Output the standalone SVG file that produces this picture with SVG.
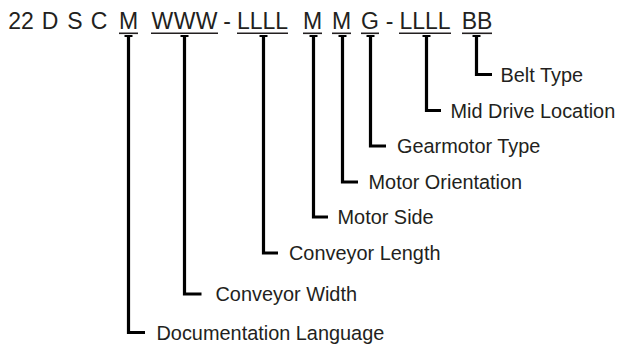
<svg xmlns="http://www.w3.org/2000/svg" width="617" height="347" viewBox="0 0 617 347">
<style>
.hd{font-family:"Liberation Sans",Arial,sans-serif;font-size:23px;fill:#231f20;text-anchor:middle}
.lb{font-family:"Liberation Sans",Arial,sans-serif;font-size:19.9px;fill:#231f20}
.ul{stroke:#231f20;stroke-width:1.6}
.cn{fill:none;stroke:#000;stroke-width:3.2;stroke-linejoin:miter;stroke-linecap:butt}
.cap{stroke:#000;stroke-width:2}
</style>
<rect width="617" height="347" fill="#fff"/>
<g id="code">
<text class="hd" x="21" y="28.5">22</text>
<text class="hd" x="50" y="28.5">D</text>
<text class="hd" x="75" y="28.5">S</text>
<text class="hd" x="99" y="28.5">C</text>
<text class="hd" x="128.5" y="28.5">M</text>
<text class="hd" x="184.5" y="28.5" textLength="66" lengthAdjust="spacing">WWW</text>
<text class="hd" x="227" y="28.5">-</text>
<text class="hd" x="262.5" y="28.5">LLLL</text>
<text class="hd" x="312.5" y="28.5">M</text>
<text class="hd" x="341.5" y="28.5">M</text>
<text class="hd" x="370" y="28.5">G</text>
<text class="hd" x="389.5" y="28.5">-</text>
<text class="hd" x="425" y="28.5">LLLL</text>
<text class="hd" x="477" y="28.5">BB</text>
<line class="ul" x1="119" y1="33.3" x2="138" y2="33.3"/>
<line class="ul" x1="151" y1="33.3" x2="218" y2="33.3"/>
<line class="ul" x1="237" y1="33.3" x2="288" y2="33.3"/>
<line class="ul" x1="303" y1="33.3" x2="322" y2="33.3"/>
<line class="ul" x1="332" y1="33.3" x2="351" y2="33.3"/>
<line class="ul" x1="361" y1="33.3" x2="379" y2="33.3"/>
<line class="ul" x1="399" y1="33.3" x2="451" y2="33.3"/>
<line class="ul" x1="462" y1="33.3" x2="492" y2="33.3"/>
</g>
<g id="connectors">
<path class="cn" d="M128.5 35 V332.5 H145"/>
<path class="cn" d="M184.5 35 V294 H201.5"/>
<path class="cn" d="M263.5 35 V253 H278"/>
<path class="cn" d="M313.5 35 V217 H328"/>
<path class="cn" d="M342.5 35 V182 H358"/>
<path class="cn" d="M370.5 35 V146 H386"/>
<path class="cn" d="M426.5 35 V110.5 H441"/>
<path class="cn" d="M476.5 35 V74.5 H492"/>
<g class="cap">
<line x1="124.5" y1="36" x2="132.5" y2="36"/>
<line x1="180.5" y1="36" x2="188.5" y2="36"/>
<line x1="259.5" y1="36" x2="267.5" y2="36"/>
<line x1="309.5" y1="36" x2="317.5" y2="36"/>
<line x1="338.5" y1="36" x2="346.5" y2="36"/>
<line x1="366.5" y1="36" x2="374.5" y2="36"/>
<line x1="422.5" y1="36" x2="430.5" y2="36"/>
<line x1="472.5" y1="36" x2="480.5" y2="36"/>
</g>
</g>
<g id="belt-type"><text class="lb" x="500.5" y="81.5">Belt Type</text></g>
<g id="mid-drive-location"><text class="lb" x="450.5" y="117.5">Mid Drive Location</text></g>
<g id="gearmotor-type"><text class="lb" x="397" y="153">Gearmotor Type</text></g>
<g id="motor-orientation"><text class="lb" x="368.5" y="189">Motor Orientation</text></g>
<g id="motor-side"><text class="lb" x="337.5" y="224">Motor Side</text></g>
<g id="conveyor-length"><text class="lb" x="289" y="260">Conveyor Length</text></g>
<g id="conveyor-width"><text class="lb" x="215.5" y="301.3">Conveyor Width</text></g>
<g id="documentation-language"><text class="lb" x="156.5" y="339.5">Documentation Language</text></g>
</svg>
